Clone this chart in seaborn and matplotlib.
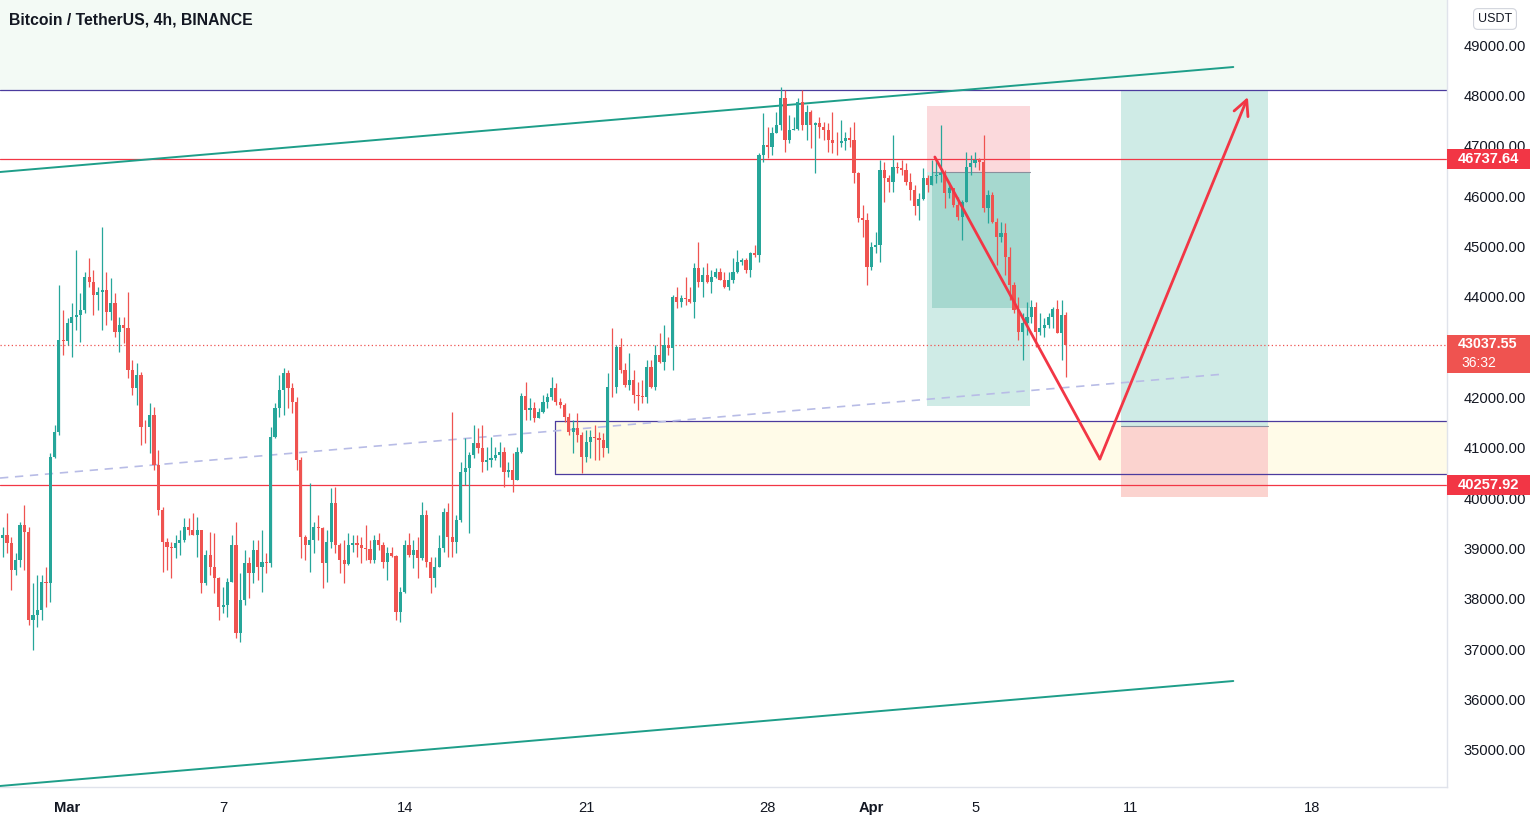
import numpy as np
import pandas as pd
import matplotlib
matplotlib.use('Agg')
import matplotlib.pyplot as plt
import matplotlib.dates as mdates
import matplotlib.transforms as mtransforms
from matplotlib.patches import Rectangle
import seaborn as sns

# candles (4h BTC/USDT); open = previous close
first_open = 39203
closes = [39269, 39104, 38574, 38772, 39468, 39336, 37581, 37680, 37780, 38342,
          38309, 40825, 41321, 43142, 43129, 43473, 43605, 43638, 43738, 44400,
          44300, 44036, 44102, 44135, 43705, 43870, 43307, 43440, 43373, 42545,
          42181, 42446, 41420, 41407, 41652, 40659, 39765, 39136, 39024, 39004,
          39103, 39169, 39434, 39368, 39269, 39368, 38322, 38871, 38640, 38408,
          37845, 37878, 38342, 39070, 37316, 37978, 38706, 38507, 38971, 38640,
          38739, 38706, 41221, 41784, 42148, 42492, 42181, 41917, 40758, 39236,
          39070, 39169, 39434, 39401, 38706, 39136, 39897, 39070, 38772, 38693,
          39070, 39103, 39070, 39004, 38991, 38772, 39170, 39070, 38739, 38905,
          38852, 37746, 38144, 39070, 38872, 38971, 38806, 39666, 38739, 38408,
          38640, 39004, 39732, 39236, 39137, 39567, 40527, 40593, 40858, 41089,
          40990, 40725, 40758, 40791, 40857, 40923, 40526, 40559, 40360, 40923,
          42029, 41751, 41784, 41585, 41718, 41916, 42015, 42181, 41916, 41850,
          41618, 41320, 41386, 41254, 40824, 41122, 41221, 41188, 41155, 40989,
          42215, 42201, 43009, 42546, 42248, 42347, 42049, 42036, 42016, 42612,
          42215, 42844, 42711, 43042, 42976, 44002, 43903, 43969, 43949, 43903,
          44565, 44300, 44432, 44300, 44399, 44499, 44333, 44201, 44333, 44499,
          44697, 44730, 44532, 44863, 44830, 46816, 47014, 46981, 47246, 47411,
          47941, 47113, 47312, 47325, 47875, 47411, 47676, 47411, 47458, 47365,
          47312, 47113, 47060, 47047, 47094, 47146, 47113, 46451, 45557, 45524,
          44597, 44994, 45028, 46517, 46352, 46285, 46583, 46550, 46517, 46285,
          46120, 45802, 45934, 46352, 46219, 46398, 46418, 46451, 46054, 46153,
          45822, 45590, 45888, 46583, 46649, 46716, 46683, 45756, 46021, 45491,
          45193, 45259, 44796, 44233, 43737, 43306, 43472, 43604, 43803, 43306,
          43372, 43439, 43604, 43750, 43273, 43637, 43038]
highs = [39435, 39699, 39236, 38905, 39534, 39865, 39435, 38309, 38475, 38475,
         38640, 40891, 41454, 44234, 43738, 43572, 43870, 44929, 44069, 44499,
         44764, 44532, 44201, 45393, 44499, 44367, 44069, 43605, 43605, 44101,
         42744, 42678, 42512, 41552, 41883, 41817, 40957, 39831, 39202, 39136,
         39269, 39368, 39600, 39600, 39699, 39633, 39368, 38971, 39335, 39302,
         38441, 38242, 38408, 39269, 39534, 38507, 38971, 38838, 39169, 39169,
         39368, 38904, 41420, 41883, 42446, 42579, 42545, 42281, 42016, 40824,
         39269, 40295, 39533, 39666, 39434, 39368, 40195, 40228, 39103, 39169,
         39302, 39269, 39269, 39236, 39467, 39170, 39269, 39302, 39137, 39037,
         39037, 38872, 38243, 39170, 39302, 39170, 39236, 39931, 39765, 38839,
         38839, 39269, 39799, 39898, 41718, 39666, 40725, 41189, 40924, 41454,
         41387, 41453, 41022, 41221, 41022, 41122, 41022, 40725, 40890, 41022,
         42082, 42313, 41982, 41916, 41784, 42049, 42082, 42413, 42280, 41982,
         41883, 41684, 41552, 41684, 41320, 41353, 41353, 41453, 41320, 41287,
         42479, 43373, 43042, 43174, 42678, 42877, 42546, 42314, 42347, 42744,
         42744, 43042, 43274, 43439, 43208, 44035, 44201, 44035, 44399, 44201,
         44664, 45094, 44598, 44664, 44532, 44565, 44565, 44499, 44499, 44763,
         44929, 44763, 44763, 44896, 45028, 46849, 47643, 47378, 47378, 47676,
         48173, 48106, 47610, 47577, 47941, 48106, 47809, 47709, 47477, 47577,
         47477, 47444, 47676, 47279, 47511, 47278, 47378, 47477, 46484, 45822,
         45656, 45094, 45292, 46716, 46683, 46418, 47212, 46683, 46716, 46649,
         46451, 46219, 46054, 46550, 46418, 46716, 46716, 47411, 46517, 46285,
         46153, 45987, 45921, 46881, 46815, 46881, 46749, 47212, 46120, 46087,
         45557, 45491, 45458, 44994, 44299, 44001, 43670, 43902, 43935, 43902,
         43670, 43571, 43670, 43803, 43935, 43935, 43704]
lows = [38839, 38905, 38177, 38475, 38640, 38574, 37482, 36985, 37449, 37581,
        37846, 37945, 40792, 41255, 42844, 43043, 42811, 43340, 43109, 43671,
        44201, 43638, 43738, 43340, 43440, 43539, 43208, 42910, 43075, 42380,
        42049, 41850, 41056, 41089, 40890, 40559, 39666, 38540, 38573, 38408,
        38805, 38871, 39136, 39269, 39269, 38838, 38110, 38276, 38474, 38110,
        37580, 37713, 37647, 38342, 37216, 37150, 37878, 38011, 38309, 38375,
        38143, 38507, 38640, 41188, 41619, 41652, 41784, 41685, 40559, 38805,
        38772, 38540, 38904, 39169, 38209, 38342, 39004, 38904, 38507, 38309,
        38673, 38938, 38838, 38706, 38772, 38706, 38706, 38971, 38607, 38375,
        38839, 37581, 37548, 38110, 38839, 38607, 38408, 38772, 38640, 38110,
        38243, 38640, 38938, 38839, 38839, 38905, 39534, 40262, 39302, 40792,
        40891, 40526, 40559, 40625, 40758, 40625, 40228, 40427, 40129, 40360,
        40890, 41552, 41552, 41519, 41618, 41684, 41784, 41949, 41850, 41784,
        41519, 41254, 40890, 41122, 40493, 40725, 40791, 40758, 40758, 40824,
        40900, 42016, 42082, 42479, 42215, 42148, 41884, 41751, 41884, 41884,
        42182, 42148, 42678, 42546, 42844, 42546, 43770, 43803, 43837, 43870,
        43572, 44201, 44002, 44267, 44068, 44366, 44333, 44168, 44135, 44267,
        44465, 44631, 44465, 44399, 44796, 44697, 46683, 46749, 46816, 47246,
        47312, 46882, 47047, 47312, 47312, 47312, 47113, 46948, 46451, 47147,
        47113, 46882, 46849, 46816, 46981, 46914, 46980, 46252, 45491, 45193,
        44233, 44531, 44862, 44697, 45888, 46087, 46087, 46451, 46418, 46219,
        45921, 45623, 45524, 45921, 46087, 46219, 46252, 46285, 45756, 45954,
        45789, 45524, 45127, 45888, 46418, 46583, 46517, 45690, 45458, 45458,
        44630, 45094, 44432, 43935, 43670, 43141, 42744, 43240, 43472, 43008,
        43240, 43207, 43373, 43373, 43273, 42744, 42413]

# drawings
resistance_level = 48106
red_levels = [46737.64, 40257.92]
last_price = 43037.55
countdown = '36:32'
channel_t = ['2022-02-26 09:30', '2022-04-14 23:00']
channel_upper = [46478, 48563]
channel_lower = [34284, 36369]
trend_t = ['2022-02-26 09:30', '2022-04-14 15:00']
trend_p = [40400, 42466]
zone_start = '2022-03-19 19:00'
zone_top, zone_bottom = 41533, 40480
short_t = ['2022-04-03 03:30', '2022-04-07 03:00']
short_fill_start = '2022-04-03 08:00'
short_stop, short_entry, short_target, short_reached = 47789, 46478, 41831, 43777
long_t = ['2022-04-10 15:00', '2022-04-16 07:00']
long_target, long_entry, long_stop = 48086, 41435, 40023
path_t = ['2022-04-03 10:45', '2022-04-09 19:30', '2022-04-15 12:30']
path_p = [46776, 40778, 47967]
tick_dates = ['2022-03-01', '2022-03-07', '2022-03-14', '2022-03-21', '2022-03-28',
              '2022-04-01', '2022-04-05', '2022-04-11', '2022-04-18']
tick_labels = ['Mar', '7', '14', '21', '28', 'Apr', '5', '11', '18']
price_ticks = list(range(35000, 50000, 1000))
hidden_tick = 43000  # sits under the last-price tag

UP, DOWN = '#26a69a', '#ef5350'
TAG = '#f23645'

sns.set_theme(style='white')
plt.rcParams['font.family'] = ['Liberation Sans', 'DejaVu Sans']

def dn(s):
    return mdates.date2num(pd.Timestamp(s))

times = pd.date_range('2022-02-26 12:00', periods=len(closes), freq='4h')
df = pd.DataFrame({'t': mdates.date2num(times), 'close': closes, 'high': highs, 'low': lows})
df['open'] = [first_open] + closes[:-1]
df['high'] = df[['high', 'open', 'close']].max(axis=1)
df['low'] = df[['low', 'open', 'close']].min(axis=1)
df['color'] = np.where(df['close'] >= df['open'], UP, DOWN)

W, H = 1535, 822
fig = plt.figure(figsize=(W / 100, H / 100), dpi=100)
ax = fig.add_axes([0, 1 - 787 / H, 1447 / W, 787 / H])
ax.set_facecolor('white')

x0 = dn('2022-02-26 09:30')
x1 = dn('2022-04-23 04:48')
ymin, ymax = 34264, 49894
ax.set_xlim(x0, x1)
ax.set_ylim(ymin, ymax)

# faint tint above resistance
ax.axhspan(resistance_level, ymax, color='#f3faf5', zorder=0, lw=0)

# demand zone
ax.add_patch(Rectangle((dn(zone_start), zone_bottom), x1 - dn(zone_start), zone_top - zone_bottom,
                       facecolor='#fffbe8', edgecolor='none', zorder=1))
ax.plot([dn(zone_start), x1], [zone_top, zone_top], color='#4b3b9e', lw=0.9, zorder=2)
ax.plot([dn(zone_start), x1], [zone_bottom, zone_bottom], color='#4b3b9e', lw=0.9, zorder=2)
ax.plot([dn(zone_start), dn(zone_start)], [zone_bottom, zone_top], color='#4b3b9e', lw=0.9, zorder=2)

# short position box
sx0, sx1 = dn(short_t[0]), dn(short_t[1])
ax.add_patch(Rectangle((sx0, short_entry), sx1 - sx0, short_stop - short_entry,
                       facecolor='#fbd9dc', edgecolor='none', zorder=1))
ax.add_patch(Rectangle((sx0, short_target), sx1 - sx0, short_entry - short_target,
                       facecolor='#cfebe6', edgecolor='none', zorder=1))
ax.add_patch(Rectangle((dn(short_fill_start), short_reached), sx1 - dn(short_fill_start),
                       short_entry - short_reached, facecolor='#a6d8cf', edgecolor='none', zorder=1))
ax.plot([dn(short_fill_start), sx1], [short_entry, short_entry], color='#8a8f9c', lw=0.8, zorder=2)

# long position box
lx0, lx1 = dn(long_t[0]), dn(long_t[1])
ax.add_patch(Rectangle((lx0, long_entry), lx1 - lx0, long_target - long_entry,
                       facecolor='#cfebe6', edgecolor='none', zorder=1))
ax.add_patch(Rectangle((lx0, long_stop), lx1 - lx0, long_entry - long_stop,
                       facecolor='#fbd3cf', edgecolor='none', zorder=1))
ax.plot([lx0, lx1], [long_entry, long_entry], color='#8a8f9c', lw=0.8, zorder=2)

# horizontal levels
ax.axhline(resistance_level, color='#4b3b9e', lw=0.9, zorder=2)
for lv in red_levels:
    ax.axhline(lv, color=TAG, lw=0.9, zorder=2)
ax.axhline(last_price, color=DOWN, lw=0.9, ls=(0, (1, 2)), zorder=2)

# channel and trend lines
ct = [dn(t) for t in channel_t]
sns.lineplot(x=ct, y=channel_upper, ax=ax, color='#1e9e89', lw=1.4, zorder=3)
sns.lineplot(x=ct, y=channel_lower, ax=ax, color='#1e9e89', lw=1.4, zorder=3)
sns.lineplot(x=[dn(t) for t in trend_t], y=trend_p, ax=ax, color='#b8bce6', lw=1.2,
             linestyle=(0, (5, 4)), zorder=3)

# candles
ax.vlines(df['t'], df['low'], df['high'], colors=df['color'], lw=0.9, zorder=4)
body = (df['close'] - df['open']).abs().clip(lower=14)
ax.bar(df['t'], body, bottom=df[['open', 'close']].min(axis=1), width=4 / 24 * 0.74,
       color=df['color'], lw=0, zorder=5)

# projected path
pt = [dn(t) for t in path_t]
ax.plot(pt[:2], path_p[:2], color=TAG, lw=2.0, zorder=6, solid_capstyle='round')
ax.annotate('', xy=(pt[2], path_p[2]), xytext=(pt[1], path_p[1]), zorder=6,
            arrowprops=dict(arrowstyle='->, head_length=0.9, head_width=0.45', color=TAG,
                            lw=2.0, shrinkA=0, shrinkB=0))

# axes styling
for s in ['top', 'left']:
    ax.spines[s].set_visible(False)
for s in ['right', 'bottom']:
    ax.spines[s].set_color('#e0e3eb')
    ax.spines[s].set_linewidth(1)
ax.yaxis.tick_right()
ax.set_yticks(price_ticks)
ax.set_yticklabels(['' if p == hidden_tick else f'{p:.2f}' for p in price_ticks])
ax.tick_params(axis='y', length=0, pad=12, labelsize=10.6, labelcolor='#131722')
ax.set_xticks([dn(t) for t in tick_dates])
ax.set_xticklabels(tick_labels)
ax.tick_params(axis='x', length=0, pad=10, labelsize=10.6, labelcolor='#131722')
for lab in ax.get_xticklabels():
    if lab.get_text() in ('Mar', 'Apr'):
        lab.set_fontweight('bold')
ax.grid(False)

ax.text(0.0065, 1 - 20 / 787, 'Bitcoin / TetherUS, 4h, BINANCE', transform=ax.transAxes,
        fontsize=11.3, fontweight='bold', color='#131722', va='center', ha='left')

# price tags on the right scale
tr = mtransforms.blended_transform_factory(fig.transFigure, ax.transData)
px = 19.86
for lv in red_levels:
    fig.add_artist(Rectangle((1447 / W, lv - 10 * px), 83 / W, 20 * px, transform=tr,
                             facecolor=TAG, edgecolor='none', zorder=5))
    fig.text(1488 / W, lv, f'{lv:.2f}', transform=tr, color='white', fontsize=10.6,
             fontweight='bold', ha='center', va='center', zorder=6)
fig.add_artist(Rectangle((1447 / W, last_price - 28 * px), 83 / W, 38 * px, transform=tr,
                         facecolor=DOWN, edgecolor='none', zorder=5))
fig.text(1488 / W, last_price + 1 * px, f'{last_price:.2f}', transform=tr, color='white',
         fontsize=10.3, fontweight='bold', ha='center', va='center', zorder=6)
fig.text(1461 / W, last_price - 18 * px, countdown, transform=tr, color='white', fontsize=10,
         ha='left', va='center', zorder=6)

fig.text(1495 / W, 1 - 19 / H, 'USDT', fontsize=9, color='#131722', ha='center', va='center',
         bbox=dict(boxstyle='round,pad=0.35', facecolor='white', edgecolor='#d1d4dc', lw=0.8))

fig.savefig('out.png', dpi=100, facecolor='white')
